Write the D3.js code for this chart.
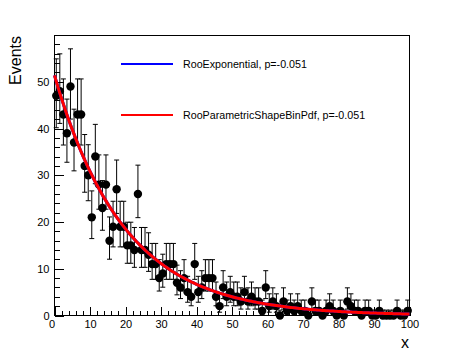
<!DOCTYPE html>
<html>
<head>
<meta charset="utf-8">
<script src="https://cdnjs.cloudflare.com/ajax/libs/d3/7.8.5/d3.min.js"></script>
<style>
  body { margin: 0; background: #fff; }
  text { font-family: "Liberation Sans", Arial, Helvetica, sans-serif; fill: #000; }
</style>
</head>
<body>
<script>
var w = 456;
var h = 352;

// events per bin, 100 bins of width 1 on x = 0..100
var counts = [
  47, 48, 43, 39, 49, 37, 43, 43, 32, 30,
  21, 34, 28, 23, 28, 16, 19, 27, 19, 19,
  15, 15, 14, 26, 14, 14, 13, 11, 11, 8,
  9, 11, 11, 11, 7, 6, 8, 5, 4, 11,
  5, 6, 8, 8, 8, 4, 2, 6, 4, 5,
  4, 4, 3, 5, 3, 4, 3, 3, 1, 6,
  2, 3, 2, 0, 3, 1, 2, 1, 2, 1,
  1, 0, 3, 1, 1, 0, 1, 2, 1, 0,
  1, 0, 3, 2, 1, 1, 0, 1, 1, 0,
  0, 1, 0, 0, 0, 0, 1, 0, 0, 1
];
var binWidth = 1;

var xTicks = [0, 10, 20, 30, 40, 50, 60, 70, 80, 90, 100];
var yTicks = [0, 10, 20, 30, 40, 50];

// fitted slope shown in the legend
var slope = -0.051;
var legendLabels = ["RooExponential, p=-0.051", "RooParametricShapeBinPdf, p=-0.051"];
var legendColors = ["#0000ff", "#ff0000"];

var svg = d3.select("body")
    .append("svg")
    .attr("width", w)
    .attr("height", h);

svg.append("rect")
    .attr("width", w)
    .attr("height", h)
    .attr("fill", "#fff");

var xScale = d3.scaleLinear()
    .domain([0, 100])
    .range([54.5, 409.5]);

var yScale = d3.scaleLinear()
    .domain([0, 59.9])
    .range([315.5, 35.5]);

// poisson 68% interval, like RooHist
function poissonCdf(n, mu) {
  var term = Math.exp(-mu), sum = term;
  for (var k = 1; k <= n; k++) {
    term = term * mu / k;
    sum += term;
  }
  return sum;
}
function solve(n, target) {
  var lo = 0, hi = 200;
  for (var it = 0; it < 80; it++) {
    var mid = (lo + hi) / 2;
    if (poissonCdf(n, mid) > target) lo = mid; else hi = mid;
  }
  return (lo + hi) / 2;
}
var alpha = 0.158655;
var points = counts.map(function(n, i) {
  var up = n == 0 ? 1.14787 : solve(n, alpha);
  var dn = n == 0 ? 0 : solve(n - 1, 1 - alpha);
  return { x0: i * binWidth, x1: (i + 1) * binWidth, xc: (i + 0.5) * binWidth, n: n, lo: dn, hi: up };
});

// axes: ticks pointing into the frame, ROOT style
var xMinor = d3.range(0, 101, 2);
var yMinor = d3.range(0, 59, 2);

function styleAxis(g) {
  g.select(".domain").remove();
  g.selectAll("line").attr("stroke", "#000").attr("shape-rendering", "crispEdges");
  g.selectAll("text")
      .attr("font-family", "'Liberation Sans', Arial, Helvetica, sans-serif")
      .attr("font-size", 11)
      .attr("fill", "#000");
}

svg.append("g")
    .attr("transform", "translate(0," + yScale(0) + ")")
    .call(d3.axisBottom(xScale).tickValues(xMinor).tickSize(-5).tickFormat(""))
    .call(styleAxis);

svg.append("g")
    .attr("transform", "translate(0," + yScale(0) + ")")
    .call(d3.axisBottom(xScale).tickValues(xTicks).tickSize(-9).tickPadding(5).tickFormat(d3.format("d")))
    .call(styleAxis)
    .selectAll("text")
    .attr("dx", function(d) { return d == 0 ? -3 : 0; });

svg.append("g")
    .attr("transform", "translate(" + xScale(0) + ",0)")
    .call(d3.axisLeft(yScale).tickValues(yMinor).tickSize(-5).tickFormat(""))
    .call(styleAxis);

svg.append("g")
    .attr("transform", "translate(" + xScale(0) + ",0)")
    .call(d3.axisLeft(yScale).tickValues(yTicks).tickSize(-9.5).tickPadding(5).tickFormat(d3.format("d")))
    .call(styleAxis);

// frame
svg.append("rect")
    .attr("x", xScale(0))
    .attr("y", yScale(59.9))
    .attr("width", xScale(100) - xScale(0))
    .attr("height", yScale(0) - yScale(59.9))
    .attr("fill", "none")
    .attr("stroke", "#000")
    .attr("shape-rendering", "crispEdges");

// data with error bars
var data = svg.append("g");

data.selectAll(".ey")
    .data(points)
  .enter().append("line")
    .attr("x1", function(d) { return xScale(d.xc); })
    .attr("x2", function(d) { return xScale(d.xc); })
    .attr("y1", function(d) { return yScale(d.lo); })
    .attr("y2", function(d) { return yScale(d.hi); })
    .attr("stroke", "#000");

data.selectAll(".ex")
    .data(points)
  .enter().append("line")
    .attr("x1", function(d) { return xScale(d.x0); })
    .attr("x2", function(d) { return xScale(d.x1); })
    .attr("y1", function(d) { return yScale(d.n); })
    .attr("y2", function(d) { return yScale(d.n); })
    .attr("stroke", "#000");

["hi", "lo"].forEach(function(k) {
  data.selectAll(".cap-" + k)
      .data(points.filter(function(d) { return d[k] > 0; }))
    .enter().append("line")
      .attr("x1", function(d) { return xScale(d.xc) - 2.5; })
      .attr("x2", function(d) { return xScale(d.xc) + 2.5; })
      .attr("y1", function(d) { return yScale(d[k]); })
      .attr("y2", function(d) { return yScale(d[k]); })
      .attr("stroke", "#000");
});

data.selectAll("circle")
    .data(points)
  .enter().append("circle")
    .attr("cx", function(d) { return xScale(d.xc); })
    .attr("cy", function(d) { return yScale(d.n); })
    .attr("r", 4.2)
    .attr("fill", "#000");

// fitted exponential, normalised to the data
var total = d3.sum(counts);
var norm = total * binWidth * (-slope) / (1 - Math.exp(slope * 100));
var curveX = d3.range(0, 100.01, 0.5);

var line = d3.line()
    .x(function(d) { return xScale(d); })
    .y(function(d) { return yScale(norm * Math.exp(slope * d)); });

legendColors.forEach(function(c) {
  svg.append("path")
      .datum(curveX)
      .attr("d", line)
      .attr("fill", "none")
      .attr("stroke", c)
      .attr("stroke-width", 3);
});

// legend
legendLabels.forEach(function(lab, i) {
  var ly = 64 + i * 51;
  svg.append("line")
      .attr("x1", 121)
      .attr("x2", 173)
      .attr("y1", ly)
      .attr("y2", ly)
      .attr("stroke", legendColors[i])
      .attr("stroke-width", 2);
  svg.append("text")
      .attr("x", 183)
      .attr("y", ly + 4)
      .attr("font-size", 10.7)
      .text(lab);
});

// axis titles
svg.append("text")
    .attr("transform", "translate(21,36) rotate(-90)")
    .attr("text-anchor", "end")
    .attr("font-size", 16)
    .text("Events");

svg.append("text")
    .attr("x", 409)
    .attr("y", 348)
    .attr("text-anchor", "end")
    .attr("font-size", 16)
    .text("x");
</script>
</body>
</html>
